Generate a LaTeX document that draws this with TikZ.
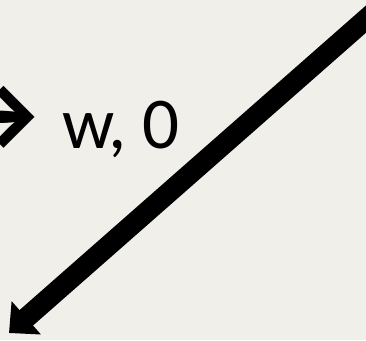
\documentclass[tikz,border=0pt]{standalone}
\usepackage{fontspec}
\setmainfont{Carlito}
\usetikzlibrary{arrows.meta}
\definecolor{bg}{HTML}{F0EFEA}
\begin{document}
\begin{tikzpicture}[x=1pt,y=-1pt,
  bigarrow/.style={line width=20.5pt,-{Triangle[length=23pt,width=43pt]}},
  lbl/.style={font=\fontsize{73}{88}\selectfont, inner sep=0pt, anchor=base east}]
\useasboundingbox (0,0) rectangle (366,340);
\clip (0,0) rectangle (366,340);
\fill[bg] (0,0) rectangle (366,340);
\node[lbl] (t) at (180,148) {\raisebox{-3pt}{\fontsize{112}{112}\selectfont\bfseries →}\hspace{24pt}w, 0};
\coordinate (tail) at (390,-2);
\coordinate (tip) at (9,333);
\draw[bigarrow] (tail) -- (tip);
\end{tikzpicture}
\end{document}
